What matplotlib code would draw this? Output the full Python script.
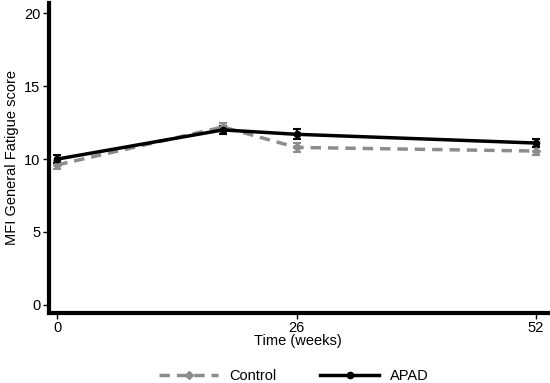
import matplotlib
matplotlib.use("Agg")
import matplotlib.pyplot as plt
from matplotlib.lines import Line2D

weeks = [0, 18, 26, 52]
apad = [10.0, 12.0, 11.7, 11.1]
apad_se = [0.3, 0.3, 0.35, 0.3]
control = [9.6, 12.2, 10.8, 10.55]
control_se = [0.3, 0.3, 0.3, 0.25]
xticks = [0, 26, 52]
yticks = [0, 5, 10, 15, 20]

plt.rcParams['font.family'] = ['Liberation Sans', 'DejaVu Sans']

fig = plt.figure(figsize=(5.5, 3.83), dpi=100)
ax = fig.add_axes([0.089, 0.183, 0.907, 0.809])

ax.errorbar(weeks, control, yerr=control_se, color='#8c8c8c', ls='--', lw=2.5,
            marker='D', ms=4.5, capsize=3, capthick=1.5, elinewidth=1.5,
            dashes=(3, 2))
ax.errorbar(weeks, apad, yerr=apad_se, color='black', ls='-', lw=2.5,
            marker='o', ms=4.5, capsize=3, capthick=1.5, elinewidth=1.5)

ax.set_xlim(-0.9, 53.3)
ax.set_ylim(-0.55, 20.7)
ax.set_xticks(xticks)
ax.set_yticks(yticks)
ax.tick_params(labelsize=10.5, length=4, width=1, pad=2)

for s in ['top', 'right']:
    ax.spines[s].set_visible(False)
for s in ['left', 'bottom']:
    ax.spines[s].set_linewidth(3)

ax.set_xlabel('Time (weeks)', fontsize=10.5, labelpad=-1)
ax.set_ylabel('MFI General Fatigue score', fontsize=10.5, labelpad=4)

handles = [
    Line2D([], [], color='#8c8c8c', lw=2.5, dashes=(3, 2), marker='D', ms=4.5),
    Line2D([], [], color='black', lw=2.5, marker='o', ms=4.5),
]
fig.legend(handles, ['Control', 'APAD'], loc='lower center',
           bbox_to_anchor=(0.535, -0.035), ncol=2, frameon=False, fontsize=10.5,
           handlelength=4, columnspacing=3)

fig.savefig('out.png', dpi=100)
